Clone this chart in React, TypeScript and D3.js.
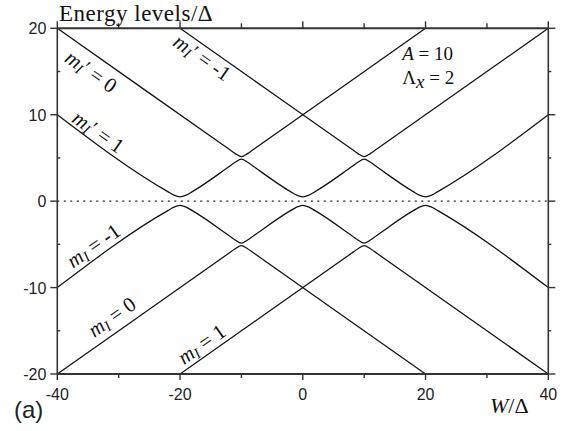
import React from "react";
import * as d3 from "d3";

// axis ticks
const xMajor = [-40, -20, 0, 20, 40];
const xMinor = [-30, -10, 10, 30];
const yMajor = [-20, -10, 0, 10, 20];
const yMinor = [-15, -5, 5, 15];

// energy branches [W/Δ, E/Δ]
const upperA = [[-40, 20], [-12, 6], [-11, 5.5], [-10, 5.15], [-9, 5.5], [-8, 6], [20, 20]];
const upperB = [
  [-40, 10], [-22, 1.1], [-21, 0.7], [-20, 0.5], [-19, 0.7], [-18, 1.1],
  [-12, 4], [-11, 4.5], [-10, 4.85], [-9, 4.5], [-8, 4],
  [-2, 1.1], [-1, 0.7], [0, 0.5], [1, 0.7], [2, 1.1],
  [8, 4], [9, 4.5], [10, 4.85], [11, 4.5], [12, 4],
  [18, 1.1], [19, 0.7], [20, 0.5], [21, 0.7], [22, 1.1], [40, 10],
];
const upperC = [[-20, 20], [8, 6], [9, 5.5], [10, 5.15], [11, 5.5], [12, 6], [40, 20]];
const lowerA = [[-40, -20], [-12, -6], [-11, -5.5], [-10, -5.15], [-9, -5.5], [-8, -6], [20, -20]];
const lowerB = [
  [-40, -10], [-22, -1.1], [-21, -0.7], [-20, -0.5], [-19, -0.7], [-18, -1.1],
  [-12, -4], [-11, -4.5], [-10, -4.85], [-9, -4.5], [-8, -4],
  [-2, -1.1], [-1, -0.7], [0, -0.5], [1, -0.7], [2, -1.1],
  [8, -4], [9, -4.5], [10, -4.85], [11, -4.5], [12, -4],
  [18, -1.1], [19, -0.7], [20, -0.5], [21, -0.7], [22, -1.1], [40, -10],
];
const lowerC = [[-20, -20], [8, -6], [9, -5.5], [10, -5.15], [11, -5.5], [12, -6], [40, -20]];
const branches = [upperA, upperB, upperC, lowerA, lowerB, lowerC];

// line labels
const labelW = [-34.5, -16.4, -33.3, -34.1, -31.1, -16.5];
const labelE = [15.0, 16.6, 8.0, -5.15, -13.4, -16.55];
const labelPrime = [true, true, true, false, false, false];
const labelValue = ["0", "-1", "1", "-1", "0", "1"];

export default function App() {
  const width = 570;
  const height = 431;
  const left = 57.3, right = 548.3, top = 28.3, bottom = 374;

  const x = d3.scaleLinear().domain([-40, 40]).range([left, right]);
  const y = d3.scaleLinear().domain([-20, 20]).range([bottom, top]);

  const line = d3
    .line<number[]>()
    .x((d) => x(d[0]))
    .y((d) => y(d[1]))
    .curve(d3.curveMonotoneX);

  // slope of the levels on screen (±1/2 in data units)
  const angle = (Math.atan((0.5 * (bottom - top)) / 40 / ((right - left) / 80)) * 180) / Math.PI;

  const axisColor = "#333";
  const sans = "'Liberation Sans', Arial, sans-serif";
  const serif = "'Liberation Serif', 'Times New Roman', serif";

  return (
    <svg
      width={width}
      height={height}
      style={{ position: "absolute", left: 0, top: 0, background: "#fff" }}
    >
      {/* zero line */}
      <line
        x1={x(-40)}
        x2={x(40)}
        y1={y(0)}
        y2={y(0)}
        stroke="#222"
        strokeWidth={1.3}
        strokeDasharray="2,4.5"
      />

      {branches.map((b, i) => (
        <path key={i} d={line(b) || ""} fill="none" stroke="#111" strokeWidth={1.25} />
      ))}

      {/* frame */}
      <line x1={left} x2={right} y1={top} y2={top} stroke={axisColor} strokeWidth={2} />
      <line x1={left} x2={right} y1={bottom} y2={bottom} stroke={axisColor} strokeWidth={2.2} />
      <line x1={left} x2={left} y1={top} y2={bottom} stroke={axisColor} strokeWidth={1.6} />
      <line x1={right} x2={right} y1={top} y2={bottom} stroke={axisColor} strokeWidth={1.6} />

      {/* x ticks */}
      {xMajor.map((t) => (
        <g key={"xM" + t}>
          <line x1={x(t)} x2={x(t)} y1={bottom} y2={bottom + 6} stroke={axisColor} strokeWidth={1.4} />
          <line x1={x(t)} x2={x(t)} y1={top} y2={top - 7} stroke={axisColor} strokeWidth={1.4} />
          <text x={x(t)} y={400} textAnchor="middle" fontFamily={sans} fontSize={16} fill="#222">
            {t}
          </text>
        </g>
      ))}
      {xMinor.map((t) => (
        <g key={"xm" + t}>
          <line x1={x(t)} x2={x(t)} y1={bottom} y2={bottom + 4} stroke={axisColor} strokeWidth={1.4} />
          <line x1={x(t)} x2={x(t)} y1={top} y2={top - 5} stroke={axisColor} strokeWidth={1.4} />
        </g>
      ))}

      {/* y ticks */}
      {yMajor.map((t) => (
        <g key={"yM" + t}>
          <line x1={left - 7} x2={left} y1={y(t)} y2={y(t)} stroke={axisColor} strokeWidth={1.4} />
          <line x1={right} x2={right + 7} y1={y(t)} y2={y(t)} stroke={axisColor} strokeWidth={1.4} />
          <text x={left - 11} y={y(t) + 6} textAnchor="end" fontFamily={sans} fontSize={16} fill="#222">
            {t}
          </text>
        </g>
      ))}
      {yMinor.map((t) => (
        <g key={"ym" + t}>
          <line x1={left} x2={left + 3} y1={y(t)} y2={y(t)} stroke={axisColor} strokeWidth={1.4} />
          <line x1={right} x2={right + 3} y1={y(t)} y2={y(t)} stroke={axisColor} strokeWidth={1.4} />
        </g>
      ))}

      {/* line labels */}
      {labelW.map((w, i) => {
        const rot = labelPrime[i] ? angle : -angle;
        return (
          <text
            key={"lab" + i}
            transform={`translate(${x(w)},${y(labelE[i])}) rotate(${rot})`}
            textAnchor="middle"
            dominantBaseline="central"
            fontFamily={serif}
            fontSize={21}
            fill="#111"
          >
            <tspan fontStyle="italic">m</tspan>
            <tspan fontStyle="italic" fontSize={15} dy={5}>I</tspan>
            {labelPrime[i] ? <tspan dy={-5}>′ = {labelValue[i]}</tspan> : <tspan dy={-5}> = {labelValue[i]}</tspan>}
          </text>
        );
      })}

      {/* parameters */}
      <text x={x(16.2)} y={60} fontFamily={serif} fontSize={19} fill="#111">
        <tspan fontStyle="italic">A</tspan> = 10
      </text>
      <text x={x(16.2)} y={84} fontFamily={serif} fontSize={19} fill="#111">
        Λ<tspan fontStyle="italic" dy={4}>x</tspan>
        <tspan dy={-4}> = 2</tspan>
      </text>

      {/* axis titles */}
      <text x={59} y={21} fontFamily={serif} fontSize={23} letterSpacing={0.5} fill="#111">
        Energy levels/Δ
      </text>
      <text x={490} y={413} fontFamily={serif} fontSize={22} fill="#111">
        <tspan fontStyle="italic">W</tspan>/Δ
      </text>
      <text x={14} y={418} fontFamily={sans} fontSize={24} fill="#222">
        (a)
      </text>
    </svg>
  );
}
